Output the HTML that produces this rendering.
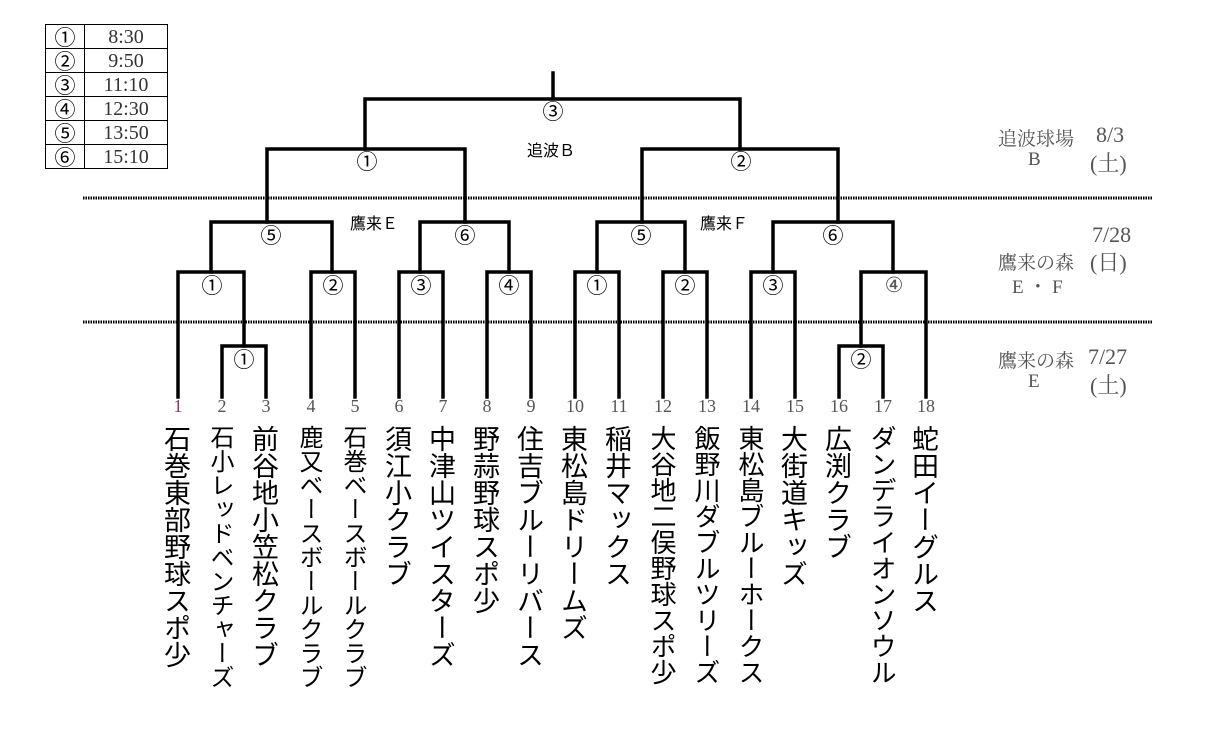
<!DOCTYPE html>
<html><head><meta charset="utf-8"><style>
body{margin:0;background:#fff;width:1207px;height:752px;position:relative;overflow:hidden;font-family:"Liberation Sans","Noto Sans CJK JP",sans-serif}
.t{position:absolute;writing-mode:vertical-rl;line-height:1;color:#000;font-family:"Noto Sans CJK JP",sans-serif;white-space:nowrap}
.n{position:absolute;width:40px;text-align:center;font-family:"Liberation Serif","Noto Serif CJK SC",serif;font-size:18px;color:#555;top:396px}
.c{position:absolute;width:30px;text-align:center;font-size:21px;line-height:22px;font-family:"Noto Sans CJK JP",sans-serif;color:#000}
.g{position:absolute;font-family:"Liberation Serif","Noto Serif CJK JP",serif;color:#555;font-size:19px;white-space:pre}
.d{position:absolute;font-family:"Liberation Serif","Noto Serif CJK JP",serif;color:#555;font-size:22px;white-space:pre}
table{position:absolute;left:45px;top:24px;border-collapse:collapse}
td{border:1.5px solid #000;height:23px;padding:0;text-align:center}
td.a{width:38px;font-family:"Noto Sans CJK JP",sans-serif;font-size:21px;line-height:22px}
td.b{width:82px;font-family:"Liberation Serif",serif;color:#333;font-size:20px;line-height:22px}
</style></head><body>
<table>
<tr><td class="a">①</td><td class="b">8:30</td></tr>
<tr><td class="a">②</td><td class="b">9:50</td></tr>
<tr><td class="a">③</td><td class="b">11:10</td></tr>
<tr><td class="a">④</td><td class="b">12:30</td></tr>
<tr><td class="a">⑤</td><td class="b">13:50</td></tr>
<tr><td class="a">⑥</td><td class="b">15:10</td></tr>
</table>
<svg width="1207" height="752" style="position:absolute;left:0;top:0">
<g stroke="#000" stroke-dasharray="1.5 1" stroke-width="3"><line x1="83" y1="198" x2="1152" y2="198"/><line x1="83" y1="322" x2="1152" y2="322"/></g>
<g stroke="#000" stroke-width="3.5" fill="none" stroke-linecap="square">
<path d="M553 73V99M365 149V99H740V149"/>
<path d="M267 222V149H465V222"/>
<path d="M642 222V149H838V222"/>
<path d="M211 272V222H332V272"/>
<path d="M420 272V222H509V272"/>
<path d="M597 272V222H685V272"/>
<path d="M773 272V222H893V272"/>
<path d="M178 397V272H244V346"/>
<path d="M222 397V346H266V397"/>
<path d="M311 397V272H355V397"/>
<path d="M399 397V272H443V397"/>
<path d="M487 397V272H531V397"/>
<path d="M575 397V272H619V397"/>
<path d="M663 397V272H707V397"/>
<path d="M751 397V272H795V397"/>
<path d="M861 346V272H926V397"/>
<path d="M839 397V346H883V397"/>
</g></svg>
<div class="c" style="left:538px;top:100px">③</div>
<div class="c" style="left:352px;top:150px">①</div>
<div class="c" style="left:726px;top:150px">②</div>
<div class="c" style="left:256px;top:224px">⑤</div>
<div class="c" style="left:450px;top:224px">⑥</div>
<div class="c" style="left:626px;top:224px">⑤</div>
<div class="c" style="left:818px;top:224px">⑥</div>
<div class="c" style="left:197px;top:274px">①</div>
<div class="c" style="left:318px;top:274px">②</div>
<div class="c" style="left:406px;top:274px">③</div>
<div class="c" style="left:494px;top:274px">④</div>
<div class="c" style="left:582px;top:274px">①</div>
<div class="c" style="left:670px;top:274px">②</div>
<div class="c" style="left:758px;top:274px">③</div>
<div class="c" style="left:879px;top:274px;font-family:'Liberation Serif',serif;color:#555">④</div>
<div class="c" style="left:229px;top:348px">①</div>
<div class="c" style="left:846px;top:348px">②</div>
<div style="position:absolute;left:527px;top:137px;font-size:16px;font-family:'Noto Sans CJK JP',sans-serif">追波Ｂ</div>
<div style="position:absolute;left:350px;top:210px;font-size:16px;font-family:'Noto Sans CJK JP',sans-serif">鷹来Ｅ</div>
<div style="position:absolute;left:700px;top:210px;font-size:16px;font-family:'Noto Sans CJK JP',sans-serif">鷹来Ｆ</div>
<div class="g" style="left:998px;top:124px">追波球場</div>
<div class="d" style="left:1096px;top:122px">8/3</div>
<div class="g" style="left:1028px;top:149px">B</div>
<div class="d" style="left:1090px;top:147px">(土)</div>
<div class="d" style="left:1092px;top:222px">7/28</div>
<div class="g" style="left:998px;top:248px">鷹来の森</div>
<div class="d" style="left:1090px;top:246px">(日)</div>
<div class="g" style="left:1012px;top:272px">E ・ F</div>
<div class="g" style="left:998px;top:346px">鷹来の森</div>
<div class="d" style="left:1088px;top:344px">7/27</div>
<div class="g" style="left:1028px;top:371px">E</div>
<div class="d" style="left:1090px;top:369px">(土)</div>
<div class="n" style="left:158px;color:#936">1</div>
<div class="n" style="left:202px">2</div>
<div class="n" style="left:246px">3</div>
<div class="n" style="left:291px">4</div>
<div class="n" style="left:335px">5</div>
<div class="n" style="left:379px">6</div>
<div class="n" style="left:423px">7</div>
<div class="n" style="left:467px">8</div>
<div class="n" style="left:511px">9</div>
<div class="n" style="left:555px">10</div>
<div class="n" style="left:599px">11</div>
<div class="n" style="left:643px">12</div>
<div class="n" style="left:687px">13</div>
<div class="n" style="left:731px">14</div>
<div class="n" style="left:775px">15</div>
<div class="n" style="left:819px">16</div>
<div class="n" style="left:863px">17</div>
<div class="n" style="left:906px">18</div>
<div class="t" style="left:164px;top:425px;font-size:27px">石巻東部野球スポ少</div>
<div class="t" style="left:210px;top:425px;font-size:24px">石小レッドベンチャーズ</div>
<div class="t" style="left:252px;top:425px;font-size:27px">前谷地小笠松クラブ</div>
<div class="t" style="left:299px;top:425px;font-size:24px">鹿又ベースボールクラブ</div>
<div class="t" style="left:343px;top:425px;font-size:24px">石巻ベースボールクラブ</div>
<div class="t" style="left:385px;top:425px;font-size:27px">須江小クラブ</div>
<div class="t" style="left:429px;top:425px;font-size:27px">中津山ツイスターズ</div>
<div class="t" style="left:473px;top:425px;font-size:27px">野蒜野球スポ少</div>
<div class="t" style="left:517px;top:425px;font-size:27px">住吉ブルーリバース</div>
<div class="t" style="left:561px;top:425px;font-size:27px">東松島ドリームズ</div>
<div class="t" style="left:605px;top:425px;font-size:27px">稲井マックス</div>
<div class="t" style="left:650px;top:425px;font-size:26px">大谷地二俣野球スポ少</div>
<div class="t" style="left:694px;top:425px;font-size:26px">飯野川ダブルツリーズ</div>
<div class="t" style="left:738px;top:425px;font-size:26px">東松島ブルーホークス</div>
<div class="t" style="left:781px;top:425px;font-size:27px">大街道キッズ</div>
<div class="t" style="left:825px;top:425px;font-size:27px">広渕クラブ</div>
<div class="t" style="left:870px;top:425px;font-size:26px">ダンデライオンソウル</div>
<div class="t" style="left:912px;top:425px;font-size:27px">蛇田イーグルス</div>
</body></html>
